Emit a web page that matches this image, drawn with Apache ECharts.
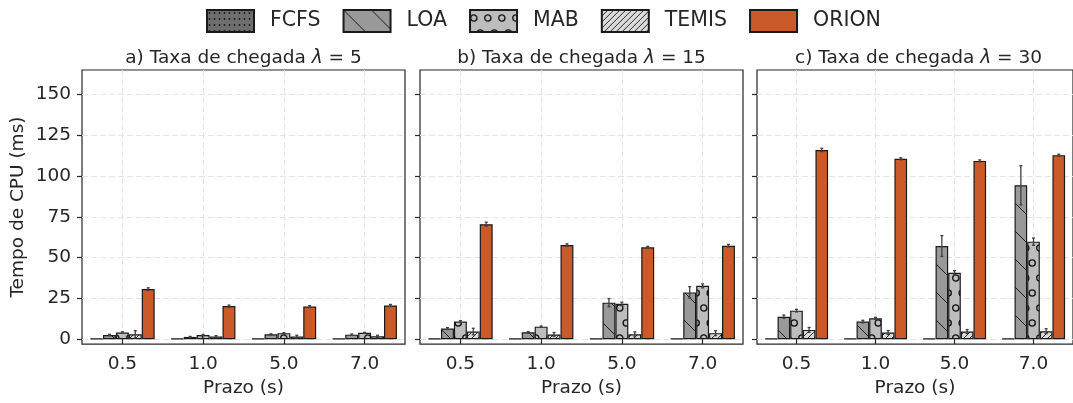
<!DOCTYPE html>
<html>
<head>
<meta charset="utf-8">
<script src="https://cdn.jsdelivr.net/npm/echarts@6/dist/echarts.min.js"></script>
<style>
html,body{margin:0;padding:0;background:#fff;}
#chart{width:1073px;height:403px;}
</style>
</head>
<body>
<div id="chart"></div>
<script>
// ---------- data ----------
const categories = ['0.5', '1.0', '5.0', '7.0'];
const methods = ['FCFS', 'LOA', 'MAB', 'TEMIS', 'ORION'];
const panelLabels = ['a) Taxa de chegada', 'b) Taxa de chegada', 'c) Taxa de chegada'];
const lambdas = [5, 15, 30];
const yTicks = [0, 25, 50, 75, 100, 125, 150];

// panel a (lambda = 5)
const fcfsA  = [0.3, 0.3, 0.3, 0.3];
const loaA   = [2.6, 1.4, 3.0, 2.8];
const mabA   = [4.1, 2.6, 3.7, 3.9];
const temisA = [3.0, 1.6, 1.6, 1.8];
const orionA = [30.7, 20.3, 20.0, 20.7];
// panel b (lambda = 15)
const fcfsB  = [0.3, 0.3, 0.3, 0.3];
const loaB   = [6.5, 4.3, 22.4, 28.7];
const mabB   = [10.8, 7.7, 21.7, 32.7];
const temisB = [4.7, 2.9, 3.0, 3.7];
const orionB = [70.5, 57.7, 56.3, 57.3];
// panel c (lambda = 30)
const fcfsC  = [0.3, 0.3, 0.3, 0.3];
const loaC   = [13.8, 10.8, 57.1, 94.3];
const mabC   = [17.5, 12.8, 40.7, 59.8];
const temisC = [5.7, 4.1, 4.7, 4.9];
const orionC = [116.0, 110.6, 109.3, 112.8];

// error bars (half-widths)
const fcfsErrA  = [0, 0, 0, 0];
const loaErrA   = [0.4, 0.3, 0.3, 0.4];
const mabErrA   = [0.4, 0.3, 0.3, 0.3];
const temisErrA = [2.2, 0.6, 0.8, 0.6];
const orionErrA = [0.8, 0.6, 0.6, 0.6];
const fcfsErrB  = [0, 0, 0, 0];
const loaErrB   = [0.6, 0.4, 2.5, 3.5];
const mabErrB   = [0.6, 0.4, 1.0, 1.2];
const temisErrB = [2.0, 1.2, 1.5, 1.5];
const orionErrB = [1.2, 0.8, 0.6, 0.8];
const fcfsErrC  = [0, 0, 0, 0];
const loaErrC   = [1.0, 0.8, 6.4, 12.0];
const mabErrC   = [0.8, 0.6, 1.3, 2.2];
const temisErrC = [1.5, 1.2, 1.2, 1.5];
const orionErrC = [1.0, 0.6, 0.6, 0.6];

const panelValues = [
  [fcfsA, loaA, mabA, temisA, orionA],
  [fcfsB, loaB, mabB, temisB, orionB],
  [fcfsC, loaC, mabC, temisC, orionC]
];
const panelErrors = [
  [fcfsErrA, loaErrA, mabErrA, temisErrA, orionErrA],
  [fcfsErrB, loaErrB, mabErrB, temisErrB, orionErrB],
  [fcfsErrC, loaErrC, mabErrC, temisErrC, orionErrC]
];

// ---------- styles ----------
const FONT = 'DejaVu Sans';
const INK = '#262626';
const FS = 18.5;
function makePattern(w, h, bg, draw) {
  const c = document.createElement('canvas');
  c.width = w; c.height = h;
  const ctx = c.getContext('2d');
  ctx.fillStyle = bg; ctx.fillRect(0, 0, w, h);
  draw(ctx, w, h);
  return { image: c, repeat: 'repeat' };
}
const fills = [
  makePattern(5, 6, '#6e6e6e', (ctx) => {
    ctx.fillStyle = '#1a1a1a';
    ctx.beginPath(); ctx.arc(2.5, 3, 0.9, 0, Math.PI * 2); ctx.fill();
  }),
  makePattern(28, 28, '#999999', (ctx, w, h) => {
    ctx.strokeStyle = '#1a1a1a'; ctx.lineWidth = 1;
    ctx.beginPath();
    ctx.moveTo(-2, -2); ctx.lineTo(w + 2, h + 2);
    ctx.moveTo(-2, h - 2); ctx.lineTo(2, h + 2);
    ctx.moveTo(w - 2, -2); ctx.lineTo(w + 2, 2);
    ctx.stroke();
  }),
  makePattern(14, 30, '#bdbdbd', (ctx) => {
    ctx.strokeStyle = '#111'; ctx.lineWidth = 1.3;
    ctx.beginPath(); ctx.arc(3.8, 8, 3.1, 0, Math.PI * 2); ctx.stroke();
    ctx.beginPath(); ctx.arc(10.2, 23, 3.1, 0, Math.PI * 2); ctx.stroke();
  }),
  makePattern(6, 6, '#dadada', (ctx, w, h) => {
    ctx.strokeStyle = '#1a1a1a'; ctx.lineWidth = 0.9;
    ctx.beginPath();
    ctx.moveTo(-1, h + 1); ctx.lineTo(w + 1, -1);
    ctx.moveTo(-1, 1); ctx.lineTo(1, -1);
    ctx.moveTo(w - 1, h + 1); ctx.lineTo(w + 1, h - 1);
    ctx.stroke();
  }),
  '#cc5a28'
];

const panelLeft = [82, 420, 757];
const panelTop = 70, panelW = 323, panelH = 276;

const grids = [], xAxes = [], yAxes = [], series = [], titles = [];
for (let p = 0; p < 3; p++) {
  grids.push({ left: panelLeft[p], top: panelTop, width: panelW, height: panelH,
    show: true, borderColor: INK, borderWidth: 1.2, backgroundColor: 'transparent' });
  xAxes.push({
    type: 'category', gridIndex: p, data: categories, boundaryGap: true,
    axisLine: { show: false },
    axisTick: { show: true, alignWithLabel: true, length: 5, lineStyle: { color: INK, width: 1.2 } },
    axisLabel: { fontFamily: FONT, fontSize: FS, color: INK, margin: 11 },
    splitLine: { show: true, alignWithLabel: true, lineStyle: { color: '#e4e4e4', type: [6, 3], width: 1 } },
    name: 'Prazo (s)', nameLocation: 'middle', nameGap: 33,
    nameTextStyle: { fontFamily: FONT, fontSize: FS, color: INK }
  });
  yAxes.push({
    type: 'value', gridIndex: p, min: -3, max: 165,
    axisLine: { show: false },
    axisTick: { show: true, customValues: yTicks, length: 5, lineStyle: { color: INK, width: 1.2 } },
    axisLabel: { show: p === 0, customValues: yTicks, fontFamily: FONT, fontSize: FS, color: INK, margin: 11 },
    splitLine: { show: true, lineStyle: { color: '#e4e4e4', type: [6, 3], width: 1 } },
    name: p === 0 ? 'Tempo de CPU (ms)' : '', nameLocation: 'middle', nameGap: 54,
    nameTextStyle: { fontFamily: FONT, fontSize: FS, color: INK }
  });
  titles.push({
    text: panelLabels[p] + ' {i|λ} = ' + lambdas[p],
    left: panelLeft[p] + panelW / 2, top: 49, textAlign: 'center', padding: 0,
    textStyle: { fontFamily: FONT, fontSize: FS, fontWeight: 'normal', color: INK,
      rich: { i: { fontFamily: FONT, fontSize: FS, fontStyle: 'italic', color: INK } } }
  });
  for (let m = 0; m < methods.length; m++) {
    series.push({
      type: 'bar', name: methods[m], xAxisIndex: p, yAxisIndex: p,
      data: panelValues[p][m], barWidth: '16%', barGap: '0%',
      itemStyle: { color: fills[m], borderColor: '#1a1a1a', borderWidth: 1.2 },
      emphasis: { disabled: true }, animation: false, z: 2
    });
  }
  const errData = [];
  for (let m = 0; m < methods.length; m++) {
    for (let c = 0; c < categories.length; c++) {
      errData.push([c, m, panelValues[p][m][c], panelErrors[p][m][c]]);
    }
  }
  series.push({
    type: 'custom', xAxisIndex: p, yAxisIndex: p, z: 5, animation: false, silent: true,
    encode: { x: 0, y: 2 },
    data: errData,
    renderItem: function (params, api) {
      const cat = api.value(0), m = api.value(1), v = api.value(2), e = api.value(3);
      if (!(e > 0)) return null;
      const band = api.size([1, 0])[0];
      const x = api.coord([cat, v])[0] + (m - 2) * band * 0.16;
      const y1 = api.coord([cat, v + e])[1];
      const y2 = api.coord([cat, v - e])[1];
      const st = { stroke: '#404040', lineWidth: 1.3 };
      return { type: 'group', children: [
        { type: 'line', shape: { x1: x, y1: y1, x2: x, y2: y2 }, style: st },
        { type: 'line', shape: { x1: x - 1.5, y1: y1, x2: x + 1.5, y2: y1 }, style: st },
        { type: 'line', shape: { x1: x - 1.5, y1: y2, x2: x + 1.5, y2: y2 }, style: st }
      ] };
    }
  });
}

const chart = echarts.init(document.getElementById('chart'), null, { renderer: 'canvas' });
chart.setOption({
  animation: false,
  backgroundColor: '#ffffff',
  title: titles,
  legend: {
    data: methods, left: 206, top: 9, padding: 0, itemWidth: 47, itemHeight: 22, itemGap: 22,
    icon: 'rect', selectedMode: false,
    textStyle: { fontFamily: FONT, fontSize: 20.5, color: INK, padding: [0, 0, 0, 11] }
  },
  grid: grids, xAxis: xAxes, yAxis: yAxes, series: series
});
</script>
</body>
</html>
